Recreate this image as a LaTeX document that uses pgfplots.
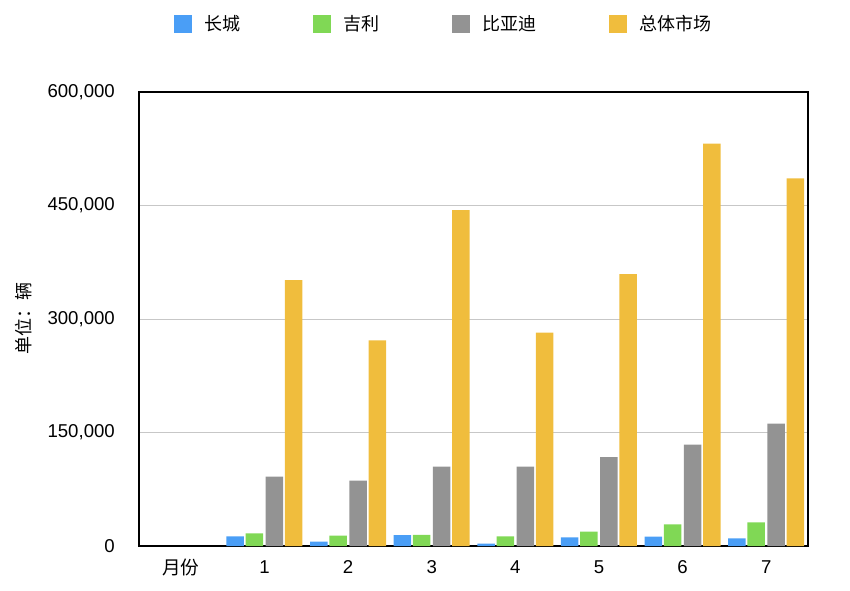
\documentclass[border=0pt]{standalone}
\usepackage{pgfplots}
\pgfplotsset{compat=1.18}
\usepackage{fontspec}
\setmainfont{Liberation Sans}
\newfontfamily\cjk{Noto Sans CJK SC}

\definecolor{cblue}{HTML}{4A9EF6}
\definecolor{cgreen}{HTML}{80D855}
\definecolor{cgray}{HTML}{939393}
\definecolor{cyellow}{HTML}{F0BD3D}

\newcommand{\fs}{\fontsize{18}{22}\selectfont}
\newcommand{\fsn}{\fontsize{18.6}{22}\selectfont}

\pgfplotsset{
  mybar/.style={ybar, bar width=0.209, draw=none,
    legend image code/.code={\fill[##1] (0pt,-9pt) rectangle (18pt,9pt);}},
}

\begin{document}
\begin{tikzpicture}
\path[use as bounding box] (0,0) rectangle (850pt,590pt);
\begin{axis}[
    at={(139pt,44pt)}, anchor=south west,
    scale only axis,
    width=669pt, height=454pt,
    xmin=-0.5, xmax=7.5,
    ymin=0, ymax=600000,
    xtick={0,1,2,3,4,5,6,7},
    xticklabels={{\cjk 月份},1,2,3,4,5,6,7},
    ytick={0,150000,300000,450000,600000},
    scaled y ticks=false,
    /pgf/number format/assume math mode=true,
    yticklabel style={/pgf/number format/fixed, /pgf/number format/1000 sep={,}, font=\fsn, inner sep=0pt, anchor=east, xshift=-24pt},
    xticklabel style={font=\fsn, inner sep=0pt, anchor=center, yshift=-21pt},
    major tick length=0pt,
    ymajorgrids,
    major grid style={line width=1pt, color=black!22},
    axis line style={line width=1.6pt, black},
    ylabel={\cjk 单位：辆},
    ylabel style={font=\fs, at={(axis description cs:-0.172,0.502)}, anchor=center},
    legend columns=4,
    legend style={draw=none, fill=none, font=\cjk\fs, inner sep=0pt,
      at={(axis description cs:0.0523,1.15)}, anchor=west,
      nodes={inner sep=0pt},
      /tikz/every odd column/.append style={column sep=12pt},
      /tikz/every even column/.append style={column sep=73pt}},
    legend cell align=left,
]
\addplot[mybar, bar shift=-0.35, fill=cblue] coordinates {
  (1,12800) (2,5800) (3,14500) (4,3200) (5,11500) (6,12400) (7,10200) };
\addplot[mybar, bar shift=-0.12, fill=cgreen] coordinates {
  (1,16800) (2,13700) (3,14800) (4,12800) (5,19000) (6,28700) (7,31300) };
\addplot[mybar, bar shift=0.12, fill=cgray] coordinates {
  (1,91700) (2,86400) (3,104900) (4,104900) (5,117600) (6,134000) (7,161800) };
\addplot[mybar, bar shift=0.35, fill=cyellow] coordinates {
  (1,351300) (2,271900) (3,443900) (4,282000) (5,359200) (6,531700) (7,485900) };
\legend{长城,吉利,比亚迪,总体市场}
\end{axis}
\end{tikzpicture}
\end{document}
